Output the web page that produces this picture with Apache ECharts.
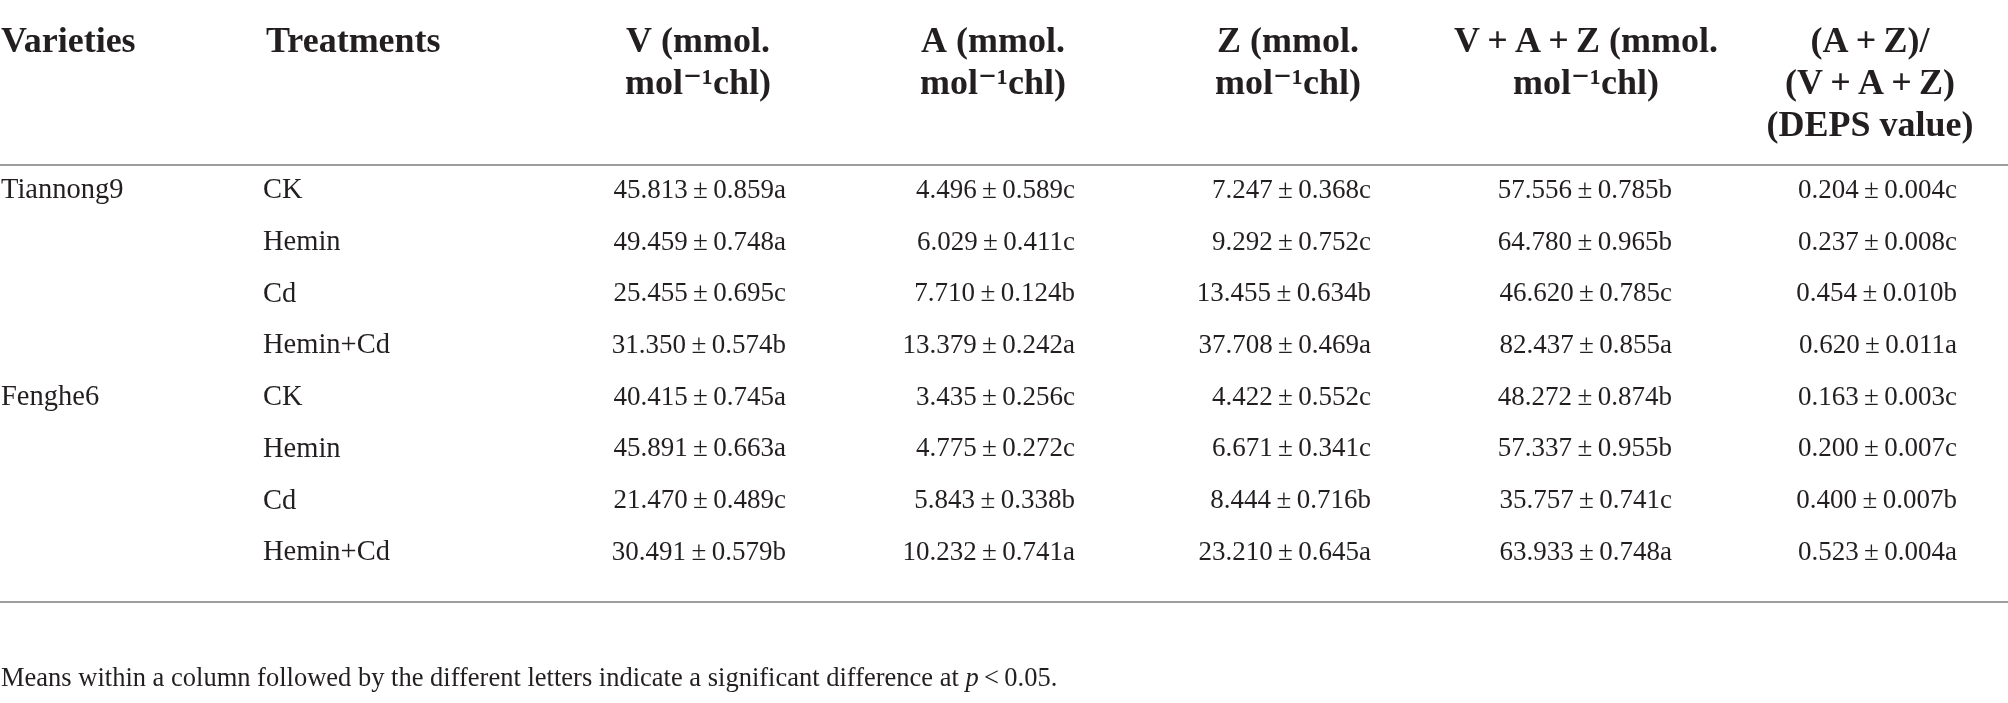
<!DOCTYPE html>
<html>
<head>
<meta charset="utf-8">
<script src="https://cdn.jsdelivr.net/npm/echarts@6/dist/echarts.min.js"></script>
<style>
html,body{margin:0;padding:0;background:#fff;}
#chart{width:2008px;height:703px;}
</style>
</head>
<body>
<div id="chart"></div>
<script>
// ---------- data ----------
const headers = [
  'Varieties',
  'Treatments',
  'V (mmol.\nmol\u207B\u00B9chl)',
  'A (mmol.\nmol\u207B\u00B9chl)',
  'Z (mmol.\nmol\u207B\u00B9chl)',
  'V\u2009+\u2009A\u2009+\u2009Z (mmol.\nmol\u207B\u00B9chl)',
  '(A\u2009+\u2009Z)/\n(V\u2009+\u2009A\u2009+\u2009Z)\n(DEPS value)'
];
const varieties  = ['Tiannong9', '', '', '', 'Fenghe6', '', '', ''];
const treatments = ['CK', 'Hemin', 'Cd', 'Hemin+Cd', 'CK', 'Hemin', 'Cd', 'Hemin+Cd'];

const vMean = [45.813, 49.459, 25.455, 31.350, 40.415, 45.891, 21.470, 30.491];
const vSE   = [0.859, 0.748, 0.695, 0.574, 0.745, 0.663, 0.489, 0.579];
const vSig  = ['a', 'a', 'c', 'b', 'a', 'a', 'c', 'b'];

const aMean = [4.496, 6.029, 7.710, 13.379, 3.435, 4.775, 5.843, 10.232];
const aSE   = [0.589, 0.411, 0.124, 0.242, 0.256, 0.272, 0.338, 0.741];
const aSig  = ['c', 'c', 'b', 'a', 'c', 'c', 'b', 'a'];

const zMean = [7.247, 9.292, 13.455, 37.708, 4.422, 6.671, 8.444, 23.210];
const zSE   = [0.368, 0.752, 0.634, 0.469, 0.552, 0.341, 0.716, 0.645];
const zSig  = ['c', 'c', 'b', 'a', 'c', 'c', 'b', 'a'];

const vazMean = [57.556, 64.780, 46.620, 82.437, 48.272, 57.337, 35.757, 63.933];
const vazSE   = [0.785, 0.965, 0.785, 0.855, 0.874, 0.955, 0.741, 0.748];
const vazSig  = ['b', 'b', 'c', 'a', 'b', 'b', 'c', 'a'];

const depsMean = [0.204, 0.237, 0.454, 0.620, 0.163, 0.200, 0.400, 0.523];
const depsSE   = [0.004, 0.008, 0.010, 0.011, 0.003, 0.007, 0.007, 0.004];
const depsSig  = ['c', 'c', 'b', 'a', 'c', 'c', 'b', 'a'];

const footnoteText = 'Means within a column followed by the different letters indicate a significant difference at {i|p}\u2009<\u20090.05.';

// ---------- layout (positions/styles only) ----------
const W = 2008;
const COL_X      = [1, 263, 786, 1075, 1371, 1672, 1957];
const COL_ALIGN  = ['left', 'left', 'right', 'right', 'right', 'right', 'right'];
const HEAD_X     = [1, 266, 698, 993, 1288, 1586, 1870];
const HEAD_ALIGN = ['left', 'left', 'center', 'center', 'center', 'center', 'center'];
const TEXT_COLOR = '#231f20';
const SERIF      = '"Liberation Serif", "DejaVu Serif", serif';
const NUM_FONT   = '27px ' + SERIF;
const WORD_FONT  = '28.5px ' + SERIF;
const HEAD_FONT  = 'bold 36px ' + SERIF;
const RULE_COLOR = '#9d9d9d';

// ---------- build cells ----------
function fmt(m, s, g) {
  return m.toFixed(3) + '\u2009\u00B1\u2009' + s.toFixed(3) + g;
}
const rowIds = treatments.map((t, i) => 'r' + i);
const cellData = [];
const cellText = [];
for (let r = 0; r < treatments.length; r++) {
  const row = [
    varieties[r],
    treatments[r],
    fmt(vMean[r], vSE[r], vSig[r]),
    fmt(aMean[r], aSE[r], aSig[r]),
    fmt(zMean[r], zSE[r], zSig[r]),
    fmt(vazMean[r], vazSE[r], vazSig[r]),
    fmt(depsMean[r], depsSE[r], depsSig[r])
  ];
  row.forEach((txt, c) => {
    if (!txt) return;
    cellData.push([c, r]);
    cellText.push(txt);
  });
}
const headData = headers.map((h, i) => [i, 0]);

const chart = echarts.init(document.getElementById('chart'), null, {renderer: 'canvas'});
chart.setOption({
  animation: false,
  backgroundColor: '#ffffff',
  grid: {left: 0, right: 0, top: 165, height: 413.6, containLabel: false},
  xAxis: [
    {type: 'value', min: 0, max: W, position: 'top',
     axisLine: {show: true, lineStyle: {color: RULE_COLOR, width: 2}},
     axisTick: {show: false}, axisLabel: {show: false}, splitLine: {show: false}},
    {type: 'value', min: 0, max: W, position: 'bottom', offset: 23.4,
     axisLine: {show: true, lineStyle: {color: RULE_COLOR, width: 2}},
     axisTick: {show: false}, axisLabel: {show: false}, splitLine: {show: false}}
  ],
  yAxis: {type: 'category', data: rowIds, inverse: true, show: false},
  graphic: [{
    type: 'text', left: 1, top: 666,
    style: {
      text: footnoteText,
      font: '26.5px ' + SERIF,
      fill: TEXT_COLOR,
      rich: {i: {font: 'italic 26.5px ' + SERIF, fill: TEXT_COLOR}}
    }
  }],
  series: [
    {
      type: 'custom',
      name: 'cells',
      xAxisIndex: 0,
      clip: false,
      data: cellData,
      renderItem: function (params, api) {
        const c = api.value(0), r = api.value(1);
        const pt = api.coord([COL_X[c], r]);
        return {
          type: 'text', x: pt[0], y: pt[1],
          style: {
            text: cellText[params.dataIndex],
            font: c < 2 ? WORD_FONT : NUM_FONT, fill: TEXT_COLOR,
            align: COL_ALIGN[c], verticalAlign: 'middle'
          }
        };
      }
    },
    {
      type: 'custom',
      name: 'headers',
      xAxisIndex: 0,
      clip: false,
      data: headData,
      renderItem: function (params, api) {
        const c = api.value(0);
        const pt = api.coord([HEAD_X[c], 0]);
        return {
          type: 'text', x: pt[0], y: 22,
          style: {
            text: headers[params.dataIndex],
            font: HEAD_FONT, fill: TEXT_COLOR,
            align: HEAD_ALIGN[c], verticalAlign: 'top',
            lineHeight: 42
          }
        };
      }
    }
  ]
});
</script>
</body>
</html>
